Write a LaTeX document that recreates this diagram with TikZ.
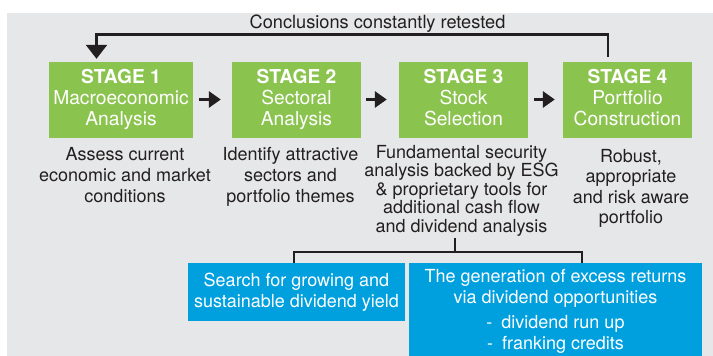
\documentclass[tikz,border=0pt]{standalone}
\usepackage{fontspec}
\setmainfont{TeX Gyre Heros}
\usetikzlibrary{arrows.meta,calc}
\definecolor{bggray}{HTML}{E6E7E8}
\definecolor{stagegreen}{HTML}{8BC34F}
\definecolor{boxblue}{HTML}{00A0DF}
\definecolor{txt}{HTML}{231F20}
\begin{document}
\begin{tikzpicture}[x=1pt,y=-1pt,
  stagebox/.style={fill=stagegreen, minimum width=129pt, minimum height=76pt, inner sep=0pt,
    text=white, align=center, font=\fontsize{19.2}{21}\selectfont},
  desc/.style={text=txt, align=center, inner sep=0pt},
  bluebox/.style={fill=boxblue, inner sep=0pt, text=white, align=center},
  flowarrow/.style={line width=3.5pt, -{Triangle[length=12pt,width=16pt]}, draw=txt},
  loopline/.style={line width=2.5pt, draw=txt},
  treeline/.style={line width=2pt, draw=txt}
]
\useasboundingbox (0,0) rectangle (713,356);
\fill[bggray] (7,13) rectangle (713,356);

\node[text=txt, font=\fontsize{18.2}{21}\selectfont, anchor=base, inner sep=0pt] (title) at (377.5,28) {Conclusions constantly retested};

\node[stagebox, minimum width=144pt] (s1) at (121,99.5) {\textbf{STAGE 1}\\Macroeconomic\\Analysis};
\node[stagebox] (s2) at (296.5,99.5) {\textbf{STAGE 2}\\Sectoral\\Analysis};
\node[stagebox] (s3) at (463.5,99.5) {\textbf{STAGE 3}\\Stock\\Selection\vphantom{y}};
\node[stagebox] (s4) at (627.5,99.5) {\textbf{STAGE 4}\\Portfolio\\Construction\vphantom{y}};

\draw[flowarrow] ($(s1.east)+(6,0)$) -- ($(s2.west)+(-11,0)$);
\draw[flowarrow] ($(s2.east)+(5,0)$) -- ($(s3.west)+(-12,0)$);
\draw[flowarrow] ($(s3.east)+(6,0)$) -- ($(s4.west)+(-8,0)$);

\draw[loopline, -{Triangle[length=14pt,width=21pt]}] ($(s4.north)+(-19.5,-4.5)$) |- ($(s1.north)+(-24.5,-27)$) -- ($(s1.north)+(-24.5,-2.5)$);

\node[desc, font=\fontsize{18}{21}\selectfont] (d1) at (125,174.7) {Assess current\\economic and market\\conditions};
\node[desc, font=\fontsize{18}{21}\selectfont] (d2) at (290.5,176.5) {Identify attractive\\sectors and\\portfolio themes};
\node[desc, font=\fontsize{18}{18.5}\selectfont] (d3) at (461.5,190.5) {Fundamental security\\analysis backed by ESG\\\& proprietary tools for\\additional cash flow\\and dividend analysis};
\node[desc, font=\fontsize{18}{20.5}\selectfont] (d4) at (631,188.3) {Robust,\\appropriate\\and risk aware\\portfolio};

\node[bluebox, minimum width=217pt, minimum height=58pt, font=\fontsize{18}{21}\selectfont] (b1) at (296.5,292) {Search for growing and\\sustainable dividend yield};
\node[bluebox, minimum width=293pt, minimum height=97pt, font=\fontsize{18}{21.3}\selectfont] (b2) at (555.5,311.4) {The generation of excess returns\\via dividend opportunities\\[4pt]-\hspace{9pt}dividend run up\\-\hspace{9pt}franking credits};

\draw[treeline] ($(d3.south)+(-6.5,2)$) -- ++(0,14) coordinate (tj);
\draw[treeline] ($(b1.north)+(-2.5,0)$) |- (tj) -| ($(b2.north)+(26.5,0)$);
\end{tikzpicture}
\end{document}
